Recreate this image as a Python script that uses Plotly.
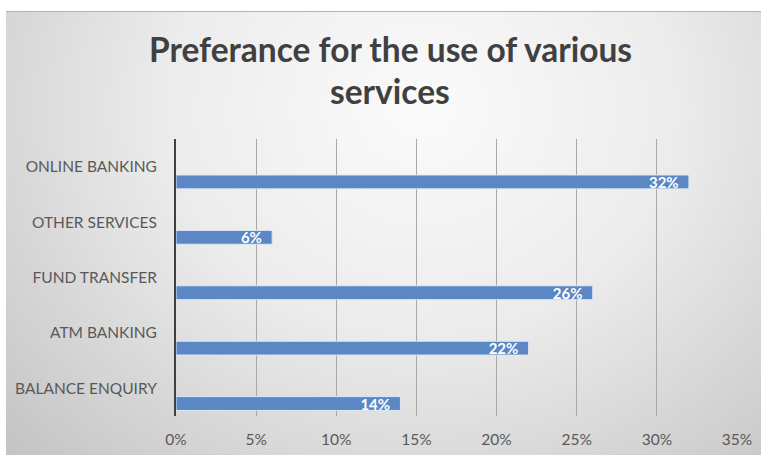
import base64
import plotly.graph_objects as go

categories = ["BALANCE ENQUIRY", "ATM BANKING", "FUND TRANSFER", "OTHER SERVICES", "ONLINE BANKING"]
values = [14, 22, 26, 6, 32]
x_ticks = [0, 5, 10, 15, 20, 25, 30, 35]
title_lines = ["Preferance for the use of various", "services"]

W, H = 761, 455
L, R, T, B = 176, 24, 139, 39
pw, ph = W - L - R, H - T - B

FX, FY = 6, 11  # top-left corner of the grey chart frame
fw, fh = W - FX, H - FY
svg = (
    f'<svg xmlns="http://www.w3.org/2000/svg" width="{fw}" height="{fh}" viewBox="0 0 {fw} {fh}" preserveAspectRatio="none">'
    '<defs><radialGradient id="g" cx="0.55" cy="0.22" r="0.75" gradientTransform="translate(0.55 0.22) scale(1 1.5) translate(-0.55 -0.22)">'
    '<stop offset="0" stop-color="#fbfbfb"/><stop offset="0.45" stop-color="#ececec"/><stop offset="1" stop-color="#c4c4c4"/>'
    '</radialGradient></defs>'
    f'<rect x="0" y="0" width="{fw}" height="{fh}" fill="url(#g)"/>'
    f'<line x1="0" y1="0.5" x2="{fw}" y2="0.5" stroke="#b4b4b4" stroke-width="1"/>'
    '</svg>'
)
uri = "data:image/svg+xml;base64," + base64.b64encode(svg.encode()).decode()

def px_x(p):
    return (p - L) / pw

def px_y(p):
    return (H - B - p) / ph

fig = go.Figure()
fig.add_trace(go.Bar(
    y=categories, x=values, orientation="h",
    width=0.25, offset=-0.4,
    marker=dict(color="#5b87c4", line=dict(color="#dce8f5", width=1)),
    text=[f"{v}%\u00a0\u00a0" for v in values],
    textposition="inside", insidetextanchor="end", constraintext="none", textangle=0,
    textfont=dict(family="Lato", size=15, color="white", weight="bold"),
    hoverinfo="skip",
))

fig.add_layout_image(dict(
    source=uri, xref="paper", yref="paper",
    x=px_x(FX), y=px_y(FY),
    sizex=fw / pw, sizey=fh / ph,
    sizing="stretch", xanchor="left", yanchor="top", layer="below",
))

title_centers = [49, 91]
for line, yc in zip(title_lines, title_centers):
    fig.add_annotation(
        text=line, xref="paper", yref="paper",
        x=px_x(390), y=px_y(yc),
        xanchor="center", yanchor="middle", showarrow=False,
        font=dict(family="Lato", size=33.5, color="#404040", weight="bold"),
    )

fig.update_layout(
    width=W, height=H,
    margin=dict(l=L, r=R, t=T, b=B, pad=0, autoexpand=False),
    paper_bgcolor="white", plot_bgcolor="rgba(0,0,0,0)",
    showlegend=False,
    font=dict(family="Lato", color="#595959", size=15.5),
    xaxis=dict(range=[0, 35], tickvals=x_ticks, ticktext=[f"{v}%" for v in x_ticks],
               showgrid=True, gridcolor="#a8a8a8", gridwidth=1, zeroline=False,
               showline=False, ticks="", ticklabelstandoff=12, fixedrange=True,
               automargin=False),
    yaxis=dict(categoryorder="array", categoryarray=categories, showgrid=False,
               showline=True, linecolor="#404040", linewidth=2, ticks="",
               ticklabelstandoff=14, zeroline=False, fixedrange=True,
               automargin=False),
)

fig.write_html(
    "out.html",
    config={"displayModeBar": False},
    post_script="document.body.style.margin='0';document.documentElement.style.overflow='hidden';",
)
